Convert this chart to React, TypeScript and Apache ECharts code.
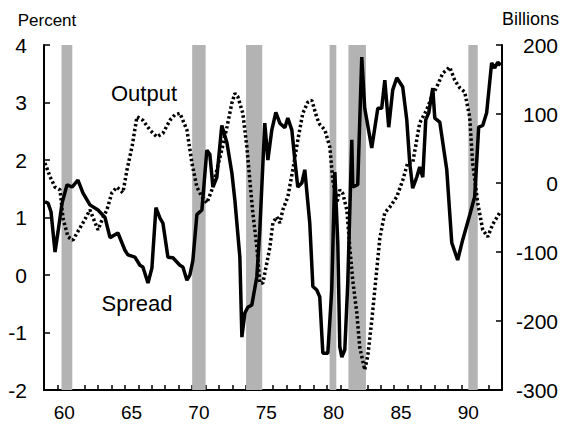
import React, { useEffect, useRef } from "react";
import * as echarts from "echarts";

// Years (two-digit, fractional) and values
const spreadYears = [59.07, 59.3, 59.52, 59.82, 60.04, 60.34, 60.71, 61.08, 61.52, 61.89, 62.41, 63.01, 63.53, 63.9, 64.49, 65.01, 65.23, 65.75, 66.12, 66.34, 66.72, 67.01, 67.31, 67.61, 67.83, 68.2, 68.57, 69.09, 69.31, 69.61, 69.83, 70.05, 70.35, 70.72, 71.09, 71.31, 71.54, 71.83, 72.2, 72.58, 72.95, 73.17, 73.54, 73.69, 73.91, 74.13, 74.43, 74.8, 75.02, 75.39, 75.62, 75.91, 76.21, 76.51, 76.88, 77.1, 77.4, 77.62, 77.84, 78.14, 78.36, 78.73, 78.96, 79.25, 79.47, 79.7, 80.07, 80.36, 80.59, 80.81, 80.96, 81.11, 81.33, 81.55, 81.85, 81.92, 82.29, 82.59, 82.81, 83.33, 83.78, 84.07, 84.3, 84.59, 84.89, 85.19, 85.63, 85.93, 86.15, 86.37, 86.67, 86.89, 87.12, 87.34, 87.56, 87.86, 88.01, 88.38, 88.9, 89.27, 89.71, 90.08, 90.6, 90.97, 91.27, 91.57, 91.86, 92.23, 92.46, 92.68, 92.9];
const spreadValues = [1.27, 1.25, 1.1, 0.4, 0.75, 1.25, 1.57, 1.53, 1.65, 1.43, 1.22, 1.13, 1.0, 0.65, 0.73, 0.43, 0.35, 0.31, 0.17, 0.14, -0.14, 0.12, 1.17, 0.99, 0.9, 0.31, 0.3, 0.17, 0.14, -0.09, 0.0, 0.25, 1.05, 1.13, 2.17, 2.1, 1.53, 1.7, 2.6, 2.3, 1.77, 1.3, 0.31, -1.08, -0.66, -0.56, -0.52, -0.03, 0.78, 2.64, 2.0, 2.52, 2.83, 2.64, 2.56, 2.73, 2.52, 2.0, 1.53, 1.6, 1.83, 0.9, -0.2, -0.26, -0.38, -1.36, -1.36, -0.26, 1.79, 0.56, -1.25, -1.43, -1.3, -0.14, 2.35, 1.53, 1.57, 3.79, 2.9, 2.21, 2.9, 2.9, 3.39, 2.57, 3.22, 3.43, 3.27, 2.7, 1.95, 1.51, 1.7, 1.88, 1.7, 2.7, 2.82, 3.25, 2.73, 2.66, 1.83, 0.56, 0.26, 0.61, 1.04, 1.36, 2.57, 2.6, 2.82, 3.69, 3.6, 3.7, 3.65];

const outputYears = [59.07, 59.45, 59.82, 60.19, 60.41, 60.78, 61.15, 61.52, 61.89, 62.41, 62.78, 63.01, 63.38, 63.67, 64.04, 64.42, 64.86, 65.16, 65.53, 65.9, 66.34, 66.86, 67.38, 67.83, 68.35, 68.72, 69.09, 69.61, 69.98, 70.35, 70.72, 71.09, 71.46, 71.83, 72.2, 72.58, 72.95, 73.17, 73.39, 73.76, 74.06, 74.28, 74.5, 74.8, 75.02, 75.25, 75.54, 75.77, 75.99, 76.28, 76.51, 76.73, 77.1, 77.47, 77.84, 78.21, 78.58, 78.88, 79.25, 79.47, 79.85, 80.22, 80.44, 80.74, 80.96, 81.18, 81.48, 81.7, 81.92, 82.22, 82.44, 82.81, 83.04, 83.33, 83.7, 83.93, 84.3, 84.67, 85.19, 85.63, 86.0, 86.37, 86.89, 87.41, 87.78, 88.15, 88.6, 89.12, 89.49, 89.86, 90.23, 90.6, 90.82, 91.2, 91.57, 91.94, 92.31, 92.83];
const outputValues = [29, 9, -6, -10, -51, -78, -83, -70, -58, -39, -57, -68, -50, -39, -14, -6, -14, 19, 52, 96, 91, 77, 67, 72, 91, 99, 101, 77, 29, -6, -20, -29, -10, 19, 48, 81, 116, 130, 125, 101, 52, 4, -43, -93, -145, -145, -116, -93, -58, -49, -58, -39, -20, 19, 62, 101, 117, 120, 95, 85, 77, 52, 4, -29, -10, -15, -39, -93, -141, -188, -238, -271, -250, -200, -126, -80, -43, -35, -20, 4, 29, 29, 87, 106, 125, 139, 159, 168, 149, 138, 132, 96, 29, -29, -68, -78, -60, -43];

const recessionStarts = [60.3, 70.0, 74.0, 80.2, 81.6, 90.5];
const recessionEnds = [61.1, 71.0, 75.2, 80.7, 82.9, 91.2];

const xLabelValues = [60.5, 65.5, 70.5, 75.5, 80.5, 85.5, 90.5];

const FONT = "'Liberation Sans', Arial, Helvetica, sans-serif";

export default function App() {
  const ref = useRef<HTMLDivElement>(null);
  useEffect(() => {
    if (!ref.current) return;
    const chart = echarts.init(ref.current, undefined, { renderer: "svg" });
    const spreadData = spreadYears.map((y, i) => [y, spreadValues[i]]);
    const outputData = outputYears.map((y, i) => [y, outputValues[i]]);
    const bands = recessionStarts.map((s, i) => [{ xAxis: s }, { xAxis: recessionEnds[i] }]);
    const axisLine = { show: true, onZero: false, lineStyle: { color: "#000", width: 2 } };
    chart.setOption({
      animation: false,
      backgroundColor: "#fff",
      textStyle: { fontFamily: FONT },
      grid: { left: 44, right: 59, top: 45, bottom: 37 },
      xAxis: {
        type: "value",
        min: 59,
        max: 93,
        interval: 1,
        axisLine,
        axisTick: { show: true, inside: true, length: 5, lineStyle: { color: "#000", width: 1.5 } },
        axisLabel: {
          customValues: xLabelValues,
          formatter: (v: number) => String(Math.floor(v)),
          fontSize: 19,
          color: "#000",
          margin: 13,
          fontFamily: FONT,
        },
        splitLine: { show: false },
      },
      yAxis: [
        {
          type: "value",
          min: -2,
          max: 4,
          interval: 1,
          position: "left",
          axisLine,
          axisTick: { show: true, inside: true, length: 6, lineStyle: { color: "#000", width: 1.5 } },
          axisLabel: { fontSize: 21, color: "#000", margin: 17, fontFamily: FONT },
          splitLine: { show: false },
        },
        {
          type: "value",
          min: -300,
          max: 200,
          interval: 100,
          position: "right",
          axisLine,
          axisTick: { show: true, inside: true, length: 6, lineStyle: { color: "#000", width: 1.5 } },
          axisLabel: { fontSize: 21, color: "#000", margin: 56, align: "right", fontFamily: FONT },
          splitLine: { show: false },
        },
      ],
      graphic: [
        { type: "text", style: { x: 47, y: 20, text: "Percent", fontSize: 17, fontFamily: FONT, fill: "#000", textAlign: "center", textVerticalAlign: "middle" } },
        { type: "text", style: { x: 559, y: 19, text: "Billions", fontSize: 18, fontFamily: FONT, fill: "#000", textAlign: "right", textVerticalAlign: "middle" } },
        { type: "text", style: { x: 144, y: 93, text: "Output", fontSize: 22, fontFamily: FONT, fill: "#000", textAlign: "center", textVerticalAlign: "middle" } },
        { type: "text", style: { x: 137, y: 303, text: "Spread", fontSize: 22, fontFamily: FONT, fill: "#000", textAlign: "center", textVerticalAlign: "middle" } },
      ],
      series: [
        {
          name: "Output",
          type: "line",
          yAxisIndex: 1,
          data: outputData,
          showSymbol: false,
          symbol: "none",
          lineStyle: { color: "#000", width: 3.5, type: [2.5, 2.5] },
          z: 3,
        },
        {
          name: "Spread",
          type: "line",
          yAxisIndex: 0,
          data: spreadData,
          showSymbol: false,
          symbol: "none",
          lineStyle: { color: "#000", width: 3.5 },
          z: 4,
          markArea: {
            silent: true,
            itemStyle: { color: "#b3b3b3" },
            data: bands,
          },
        },
      ],
    });
    return () => chart.dispose();
  }, []);
  return (
    <div
      ref={ref}
      style={{ position: "fixed", left: 0, top: 0, width: 561, height: 427, background: "#fff" }}
    />
  );
}
